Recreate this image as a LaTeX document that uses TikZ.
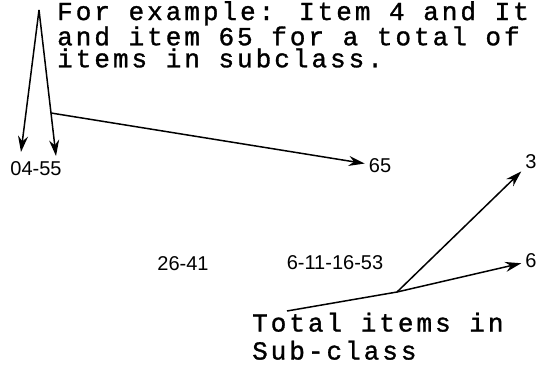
\documentclass[tikz,border=0pt]{standalone}
\usepackage{fontspec}
\setmainfont{Liberation Sans}
\newfontfamily\plotmono[LetterSpace=11.5, FakeBold=1.2]{Liberation Mono}
\usetikzlibrary{arrows.meta}

\begin{document}
\begin{tikzpicture}[x=1pt, y=-1pt,
        num/.style={inner sep=4pt, font=\fontsize{20}{20}\selectfont},
        note/.style={inner sep=0pt, align=left, anchor=north west},
        ptr/.style={line width=1.5pt, -{Stealth[length=16pt, width=10pt]}},
        seg/.style={line width=1.5pt}]
        \useasboundingbox (0,0) rectangle (541,370);
        \node (example) [note, font=\plotmono\fontsize{26}{22}\selectfont] at (57,1) {For example: Item 4 and It\\and item 65 for a total of\\items in subclass.};
        \node (total) [note, font=\plotmono\fontsize{26}{28}\selectfont] at (252,312.5) {Total items in\\Sub-class};
        \node (n0455) [num] at (36,169) {04-55};
        \node (n65) [num] at (380,166) {65};
        \node (n3) [num] at (531,162) {3};
        \node (n2641) [num] at (183,264) {26-41};
        \node (n611) [num] at (335,263) {6-11-16-53};
        \node (n6) [num] at (531,261) {6};
        \coordinate (apex) at (39,10);
        \coordinate (branch) at (51,113);
        \coordinate (tipL) at (21,152);
        \coordinate (tipR) at (56,156);
        \coordinate (tail) at (287,311);
        \coordinate (fork) at (397,292);

        \draw[ptr] (apex) -- (tipL);
        \draw[ptr] (apex) -- (tipR);
        \draw[ptr] (branch) -- (n65);
        \draw[seg] (tail) -- (fork);
        \draw[ptr] (fork) -- (n3);
        \draw[ptr] (fork) -- (n6);
    \end{tikzpicture}
\end{document}
